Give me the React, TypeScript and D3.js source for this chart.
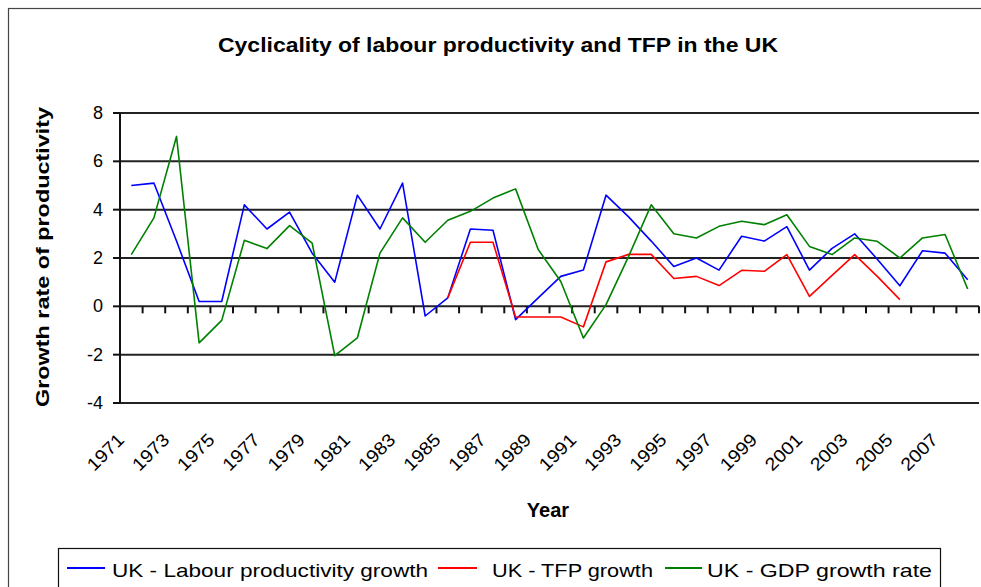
import React from "react";
import * as d3 from "d3";

const years: number[] = d3.range(1971, 2009);
const tickYears: number[] = d3.range(1971, 2009, 2).filter((y) => y <= 2007);
const yTicks: number[] = [-4, -2, 0, 2, 4, 6, 8];

const labour: (number | null)[] = [
  5.0, 5.1, 2.7, 0.2, 0.2, 4.2, 3.2, 3.9, 2.2, 1.0,
  4.6, 3.2, 5.1, -0.4, 0.35, 3.2, 3.15, -0.55, 0.35, 1.24,
  1.5, 4.6, 3.7, 2.7, 1.65, 2.0, 1.5, 2.9, 2.7, 3.3,
  1.5, 2.4, 3.0, 1.95, 0.85, 2.3, 2.2, 1.1,
];
const tfp: (number | null)[] = [
  null, null, null, null, null, null, null, null, null, null,
  null, null, null, null, 0.35, 2.65, 2.65, -0.44, -0.44, -0.44,
  -0.85, 1.84, 2.15, 2.15, 1.15, 1.24, 0.86, 1.49, 1.45, 2.14,
  0.41, 1.28, 2.14, 1.24, 0.28, null, null, null,
];
const gdp: (number | null)[] = [
  2.14, 3.66, 7.03, -1.51, -0.58, 2.73, 2.39, 3.34, 2.62, -2.04,
  -1.31, 2.2, 3.66, 2.65, 3.56, 3.93, 4.48, 4.86, 2.35, 1.03,
  -1.31, 0.07, 2.07, 4.2, 3.0, 2.83, 3.31, 3.52, 3.38, 3.79,
  2.48, 2.14, 2.83, 2.69, 2.0, 2.83, 2.97, 0.72,
];

const seriesNames = ["UK - Labour productivity growth", "UK - TFP growth", "UK - GDP growth rate"];
const seriesColors = ["#0000ff", "#ff0000", "#008000"];

const W = 981;
const H = 587;
const plotLeft = 120;
const plotRight = 979;
const plotTop = 113;
const plotBottom = 403;

export default function App() {
  const x = d3.scaleBand<number>().domain(years).range([plotLeft, plotRight]).padding(0);
  const y = d3.scaleLinear().domain([-4, 8]).range([plotBottom, plotTop]);
  const cx = (yr: number) => (x(yr) as number) + x.bandwidth() / 2;

  const line = d3
    .line<number | null>()
    .defined((d) => d !== null)
    .x((_, i) => cx(years[i]))
    .y((d) => y(d as number));

  const series = [labour, tfp, gdp];
  const font = "'Liberation Sans', Arial, sans-serif";

  const legendLayout = [
    { x1: 67, x2: 105, tx: 112, len: 316 },
    { x1: 438, x2: 477, tx: 492, len: 161 },
    { x1: 665, x2: 702, tx: 707, len: 225 },
  ];

  return (
    <svg
      width={W}
      height={H}
      style={{ position: "absolute", left: 0, top: 0, background: "#fff" }}
      fontFamily={font}
    >
      <rect x={0} y={0} width={W} height={H} fill="#fff" />
      {/* outer chart border (clipped at right/bottom) */}
      <rect x={8.5} y={8.5} width={1100} height={700} fill="none" stroke="#444" strokeWidth={1.2} />

      {/* title */}
      <text x={498} y={52} textAnchor="middle" fontSize={21} fontWeight="bold" textLength={560} lengthAdjust="spacingAndGlyphs">
        Cyclicality of labour productivity and TFP in the UK
      </text>

      {/* gridlines */}
      {yTicks.map((t) => (
        <line key={"g" + t} x1={plotLeft} x2={plotRight} y1={y(t)} y2={y(t)} stroke="#222" strokeWidth={2} />
      ))}
      {/* y axis */}
      <line x1={plotLeft} x2={plotLeft} y1={plotTop} y2={plotBottom} stroke="#111" strokeWidth={2} />
      {yTicks.map((t) => (
        <g key={"yt" + t}>
          <line x1={plotLeft - 7} x2={plotLeft} y1={y(t)} y2={y(t)} stroke="#111" strokeWidth={2} />
          <text x={103} y={y(t) + 6} textAnchor="end" fontSize={18}>
            {t}
          </text>
        </g>
      ))}
      {/* x axis ticks at category boundaries */}
      {years.map((yr) => {
        const bx = (x(yr) as number) + x.bandwidth();
        return <line key={"xt" + yr} x1={bx} x2={bx} y1={y(0)} y2={y(0) + 7} stroke="#111" strokeWidth={2} />;
      })}

      {/* series */}
      {series.map((s, i) => (
        <path key={"s" + i} d={line(s) || ""} fill="none" stroke={seriesColors[i]} strokeWidth={1.6} strokeLinejoin="round" />
      ))}

      {/* x labels */}
      {tickYears.map((yr) => (
        <text
          key={"xl" + yr}
          transform={`translate(${cx(yr) - 6},${441}) rotate(-45)`}
          textAnchor="end"
          fontSize={18}
          textLength={44}
          lengthAdjust="spacingAndGlyphs"
        >
          {yr}
        </text>
      ))}

      {/* axis titles */}
      <text x={548} y={517} textAnchor="middle" fontSize={20} fontWeight="bold">
        Year
      </text>
      <text
        transform={`translate(49,257) rotate(-90)`}
        textAnchor="middle"
        fontSize={18}
        fontWeight="bold"
        textLength={300}
        lengthAdjust="spacingAndGlyphs"
      >
        Growth rate of productivity
      </text>

      {/* legend */}
      <rect x={58.5} y={548.5} width={882} height={80} fill="#fff" stroke="#111" strokeWidth={1.2} />
      {seriesNames.map((n, i) => (
        <g key={"lg" + i}>
          <line x1={legendLayout[i].x1} x2={legendLayout[i].x2} y1={568} y2={568} stroke={seriesColors[i]} strokeWidth={2} />
          <text x={legendLayout[i].tx} y={577} fontSize={19} textLength={legendLayout[i].len} lengthAdjust="spacingAndGlyphs">
            {n}
          </text>
        </g>
      ))}
    </svg>
  );
}
